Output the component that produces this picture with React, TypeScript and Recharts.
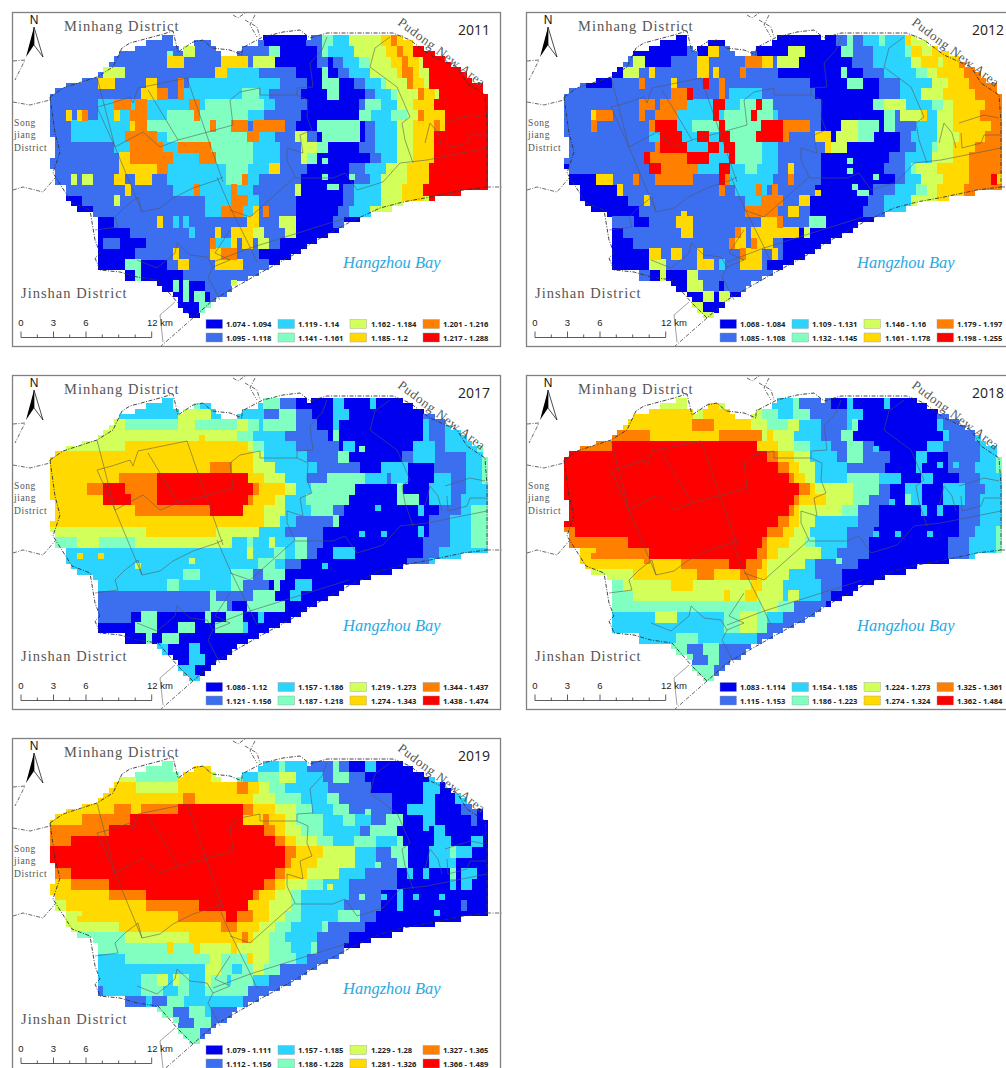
import React from 'react';
import { ScatterChart, Scatter, XAxis, YAxis } from 'recharts';

const classColors: Record<string, string> = { a: '#0000F0', b: '#3C6EF0', c: '#2AD4FF', d: '#80FFC0', e: '#D2FF5A', f: '#FFD900', g: '#FF8000', h: '#FF0000' };
const classKeys = ['a', 'b', 'c', 'd', 'e', 'f', 'g', 'h'];

const maskRows: string[] = [
  '21-23,40-48,49-66', '18-23,27-30,39-68', '16-24,25-31,36-70', '13-32,35-72', '12-74', '11-75', '10-77', '9-78', '6-79', '3-81', '1-81',
  '0-82', '0-82', '0-82', '0-82', '0-82', '0-82', '0-82', '0-82', '1-82', '1-82', '1-82', '1-82', '0-82', '0-82', '1-82', '1-82', '1-82',
  '3-82', '3-77', '3-72', '4-66', '5-64', '8-60', '9-58', '9-55', '9-54', '9-52', '9-50', '9-48', '9-47', '9-45', '9-43', '9-41',
  '14-39', '14-37', '20-35', '21-34', '23-33', '24-31', '24-30', '25-29', '26-28',
];

const rows2011: string[] = [
  'b40 a48 b51 d53 c56 e62 f64 g65 f82',
  'b25 e27 b41 d43 a50 b51 d52 c57 e63 f65 g66 f68 h82',
  'b22 f25 b32 f37 b38 e42 a50 b52 a53 b55 c58 d60 e64 f66 g67 f69 e70 h82',
  'b10 e14 b31 f33 c39 b46 a51 d52 a54 b56 c60 e65 f66 g68 f69 e71 h82',
  'b9 f12 b18 f20 b24 g25 b26 c43 b48 a51 d54 a57 b59 c62 d63 e67 g68 f70 e71 h82',
  'b17 f20 g22 b24 g25 c36 d39 c41 b47 a52 d54 a59 b61 c64 d65 e69 g70 f72 e73 h82',
  'b9 c12 g15 c16 g18 c26 g28 c29 d40 c42 b48 a58 b59 d62 c65 e68 f72 h82',
  'b3 f4 b5 f6 g7 b9 c12 f13 c15 g18 c22 d27 g28 d37 c40 b47 a58 d60 c64 d67 e69 g70 f74 h82',
  'b4 c15 f16 g18 d30 g31 d34 g37 b38 g44 b46 a50 d58 a59 b61 c65 e68 f72 g73 f74 h82',
  'b4 c14 g20 c22 d37 g39 c42 b46 e48 b50 a51 d58 a59 b61 c65 e68 f72 h82',
  'b12 c15 g21 c24 g30 d38 c43 b47 e50 d52 a58 b61 c65 e68 f72 h82',
  'b13 f15 g23 c28 g31 d38 c43 b47 e48 d50 a60 b62 c65 e68 f72 h82',
  'b13 f20 g22 c33 d37 c41 f43 b48 a56 b59 c63 e67 f71 h82',
  'b4 e5 b6 e8 b12 f14 b16 f19 b22 c33 d36 g37 c39 b47 a57 b60 c62 e67 f71 h82',
  'b14 f15 b23 c27 g28 c34 g35 c38 b46 e47 a55 b57 c62 e66 f70 h82',
  'b3 a6 b12 e13 b29 c34 g37 c39 b46 a55 b57 c62 e66 f70 e71 h82',
  'b4 a8 b29 c32 g36 c38 f39 b40 g41 b46 a54 b56 c60 e82',
  'b7 a12 b20 f21 b23 c24 b25 c26 b37 f39 b43 e46 a53 b55 a82',
  'a15 b26 c27 b31 f32 b34 f38 e40 b44 e46 a82',
  'a10 b13 a18 b30 g31 c34 f35 b36 f38 b39 e41 b43 a82',
  'a16 b23 f24 b30 f32 g35 b39 a82',
  'a14 d17 a22 b24 f26 b31 f36 b41 a82',
  'a16 d17 a25 b39 a82',
  'a23 d24 a25 d26 a29 b34 e35 b82',
  'a25 d26 a27 d29 a30 b82',
  'a28 d31 b82',
  'a82',
];

const rows2012: string[] = [
  'a24 b26 a31 b38 a51 b53 d54 b56 c59 d60 c64 f65 e82',
  'a23 b25 a27 f29 b36 a42 e45 a52 d54 b58 c64 d65 f67 e69 f72 g82',
  'b13 e15 a20 b25 f27 b34 g37 f39 b40 e44 a54 b58 c65 e67 f70 e71 f74 g82',
  'a11 e14 b16 f17 b25 f27 b28 f29 b33 g34 b40 a52 d53 a56 b60 c66 d68 e70 f75 g82',
  'b4 a9 b14 g15 b20 f21 b26 h27 b29 g30 b46 a53 d56 a59 b63 c69 e72 f76 g82',
  'b20 g23 h24 b29 g30 b31 c37 b47 a59 b63 c67 e71 f77 g82',
  'b14 g17 b18 g23 c28 h30 c33 d36 h37 d39 b48 a58 d60 e64 c69 d71 e73 f79 g82',
  'b5 f6 g9 b14 g15 b17 g21 c28 h29 c30 d35 h36 d39 c40 b48 a60 d62 b63 e67 f68 c70 e73 f78 g82',
  'b5 g6 b16 g17 h21 c24 d29 h30 d37 h41 g46 b48 a52 e55 d59 a60 d62 b66 c70 e73 f80 g82',
  'b16 c18 h22 c25 h27 c29 h31 d36 h41 g42 b47 f50 a51 e55 d58 a63 b65 c70 e74 f79 g82',
  'b17 g18 h23 c27 h29 c30 h32 d37 c40 b49 f50 e53 a63 b66 c69 d70 e73 f77 g82',
  'b15 h16 g23 h27 c31 h32 d37 c40 b48 a61 b64 c69 e73 f76 g82',
  'a1 b16 h18 g25 c29 h31 c34 d36 c40 b42 f43 b48 a60 b64 c65 d66 e70 f76 g82',
  'a6 f9 b13 g14 b17 g24 b29 h30 g31 c39 b42 g43 b48 a62 b64 c67 e71 f76 g80 h81 f82',
  'a10 f11 b29 g30 b32 c36 g37 c38 b39 g40 b47 a58 b62 c66 d68 e70 f75 g82',
  'b3 a12 b15 f16 b34 c37 g41 b44 f46 a57 b60 c65 e70 f73 e82',
  'b5 a14 b34 g40 b42 f44 b46 a56 b60 c65 e82',
  'b13 a16 b21 f24 b37 f40 g41 b46 d49 a82',
  'a11 b22 f24 b32 g33 f34 b35 f44 a45 e46 a82',
  'a13 b31 g32 f34 b35 g36 f39 b41 a82',
  'b9 a16 f18 b20 f22 b25 f26 b33 g34 f37 b39 f40 b41 a82',
  'b9 a16 e19 b25 f28 b29 c30 b33 f37 b38 a82',
  'b16 a18 e19 a23 e25 b40 a82',
  'b20 a23 e26 b29 a30 b82',
  'a26 e28 a29 e31 a82',
  'e26 a82',
  'e28 a82',
];

const rows2017: string[] = [
  'c24 e25 d28 c40 d43 b46 a53 c55 a60 c61 a82',
  'c24 e30 c40 b43 d46 b49 a53 c56 a70 b72 c82',
  'e14 d24 e27 d35 e37 d39 c40 d46 b50 a53 c54 a70 c71 b74 c82',
  'e35 d38 c44 b52 a53 d54 a70 c71 b74 c82',
  'e14 f37 e38 d40 c46 b54 a55 c57 a68 c72 b74 c80 d82',
  'f38 e40 c48 b54 d56 a66 b68 c72 b78 c81 d82',
  'f30 g34 f38 e42 c50 b58 a62 c67 a72 b78 c81 d82',
  'f13 g20 h37 f40 e44 c48 b52 d59 c63 b64 c67 a72 c75 b78 c81 d82',
  'f7 g10 h14 g20 h38 g39 f44 e46 c49 d57 a65 d66 a71 c75 b78 c82',
  'f10 h15 g20 h37 g38 f42 e44 c48 d56 a65 d69 a71 c75 b77 c82',
  'f16 g30 h36 f40 e44 c49 d53 b55 a69 c70 a73 b77 c79 d82',
  'f40 e43 c46 b53 d54 a71 b75 c79 d82',
  'e18 f31 e39 c44 b51 a69 c70 a71 b75 c79 d82',
  'd5 e9 d16 e34 c37 d38 c41 e42 c46 d48 b51 a70 b75 c79 d82',
  'c37 e38 c42 d44 c46 d48 b50 a53 c57 a70 b73 c82',
  'c39 d42 c44 b47 a67 b71 c82',
  'c25 d28 c34 d38 b40 d44 a82',
  'c22 d24 c34 d36 b41 a42 d43 a46 c49 a82',
  'b30 d31 b38 d42 a45 c47 a82',
  'b30 d33 b34 a37 d44 a82',
  'b15 a17 d20 a29 d30 a33 d36 a39 c40 a82',
  'a16 d20 a24 d27 a31 d36 c37 a82',
  'a18 d19 a21 d24 a82',
  'c22 a26 c28 a82',
  'c22 a26 c29 a82',
  'c27 a82',
  'c28 a82',
];

const rows2018: string[] = [
  'e24 f29 e34 d38 c43 d44 b50 a53 c54 a60 c61 a82',
  'f24 e26 f35 e37 d40 c43 d46 b53 c56 a70 b73 c82',
  'f24 g28 f35 e38 d42 e44 c48 b53 c54 d55 a70 c71 b75 c82',
  'g16 f29 g37 e38 f39 e43 c48 b52 d54 a71 c72 b77 c82',
  'g9 h36 f40 e43 d46 c50 b53 d56 b58 a68 c71 b78 c82',
  'h38 g40 f43 e46 c51 b53 d56 b61 a66 c68 a72 b78 c81 d82',
  'h40 g42 f44 e47 c53 b60 a66 c67 a72 b77 c81 d82',
  'h42 g43 f45 e47 c53 d59 c63 a67 c69 a74 b78 c82',
  'h44 g46 f47 e54 d59 b61 a64 c67 a71 c75 b79 c82',
  'h43 g44 f49 e54 d57 b61 a64 d65 c67 a71 c75 b78 c82',
  'h42 g43 f44 e52 d55 b59 a67 c68 a70 c71 a74 b78 c82',
  'h40 g42 f44 e47 c55 b59 a74 b78 c82',
  'g2 h38 g41 f43 e46 c53 b58 a74 b77 c81 d82',
  'g12 h37 g38 f42 e45 d47 c53 b57 a72 b76 c81 d82',
  'f6 g16 h36 g38 f40 e48 c51 b57 a72 b76 c81 d82',
  'f22 g31 h34 g37 f38 e45 c47 b55 a82',
  'e13 f25 g28 f33 g36 f38 e42 c47 b52 a82',
  'd11 e20 f24 e35 f37 e41 c48 b52 a82',
  'd13 e30 f31 e34 f36 e41 c42 e44 c48 b50 a82',
  'd37 e40 d43 b49 a82',
  'c17 e21 c30 d33 e36 d38 c41 b82',
  'c30 d33 e36 d38 b82',
  'c21 d25 c36 b82',
  'd23 b26 d29 b82',
  'd24 b27 d29 b82',
  'd28 b82',
  'd28 a29 b82',
];

const rows2019: string[] = [
  'd24 e26 f30 c43 d44 c48 b53 d54 b56 a59 c61 a82',
  'e16 d24 f30 e32 d36 c39 d43 e46 c51 b53 d56 b59 a71 c73 a82',
  'f16 e24 f35 g37 f39 e41 d44 c52 b60 a70 c73 a76 c78 a82',
  'f25 g27 f38 e42 d47 c52 d54 b64 a70 c72 a76 c78 a82',
  'f12 g15 f17 g24 h36 g38 f42 e46 d49 c53 d56 b64 a67 c72 a77 b80 a82',
  'f6 g15 h36 f40 g41 f44 e46 d51 c55 d57 c60 b63 d66 a70 c72 a79 b80 a82',
  'g11 h40 g42 f44 e47 d51 c58 b60 d65 a72 c74 a82',
  'g4 h42 g44 f46 e50 d53 c57 d61 c65 d66 a72 c75 a79 c81 a82',
  'h44 g46 f51 e57 c61 b64 d67 a71 c75 d76 c79 a82',
  'h44 g45 f50 e57 c61 b65 d67 a71 c76 a82',
  'g4 h42 g44 f48 e54 c59 b65 a67 c68 a70 c71 a75 d76 a77 c80 a82',
  'f4 g11 h40 g42 f44 e48 d51 c56 b65 a75 c76 a77 c79 a82',
  'f11 g18 h38 g39 f42 e45 d47 c56 b62 a65 c66 a82',
  'e3 f18 g28 h37 f41 e45 d47 c55 b62 a65 c66 a77 b78 a82',
  'e6 f24 g33 h35 g38 f41 e44 d47 c54 d58 b61 a82',
  'e13 f32 g35 f39 e42 d45 c51 d52 b59 a82',
  'd14 e26 f36 g37 f38 e41 d44 c50 b56 a82',
  'd22 f23 d27 f28 e34 f35 e41 d45 c49 d50 b55 a82',
  'c14 d30 e32 d37 f38 e41 d46 c48 b54 a82',
  'c29 e32 d34 c36 d38 e40 d43 b82',
  'c17 d20 e22 c23 e24 d26 c29 e30 d33 c34 d38 c41 b82',
  'b10 c17 d21 c24 d26 c29 d37 b82',
  'b12 c14 b18 c19 b22 d25 c36 b82',
  'd23 b26 d29 c30 b82',
  'd24 b27 d30 b82',
  'd28 b82',
  'd28 a29 b82',
];

type Speck = [number, number, string];
const specks2011: Speck[] = [[51, 16, 'd'], [51, 23, 'd'], [51, 26, 'd'], [52, 28, 'd'], [53, 28, 'd'], [56, 26, 'd'], [22, 3, 'd'], [13, 7, 'e']];
const specks2012: Speck[] = [[53, 23, 'd'], [53, 25, 'd'], [58, 26, 'd'], [54, 28, 'd'], [55, 29, 'd'], [56, 29, 'd'], [47, 29, 'f'], [42, 24, 'f'], [22, 33, 'f'], [23, 34, 'f']];
const specks2017: Speck[] = [[58, 9, 'd'], [61, 20, 'c'], [58, 25, 'c'], [62, 25, 'c'], [51, 31, 'c'], [5, 29, 'f'], [9, 29, 'f'], [28, 7, 'f'], [16, 31, 'e'], [26, 30, 'e']];
const specks2018: Speck[] = [[58, 9, 'c'], [61, 19, 'c'], [58, 25, 'c'], [62, 25, 'c'], [68, 25, 'c'], [51, 30, 'd'], [70, 12, 'c'], [73, 12, 'c'], [5, 29, 'g'], [9, 29, 'g'], [15, 30, 'g']];
const specks2019: Speck[] = [[59, 9, 'd'], [61, 19, 'd'], [58, 25, 'd'], [62, 25, 'c'], [68, 25, 'c'], [73, 12, 'c'], [73, 25, 'c'], [72, 28, 'c'], [70, 12, 'c'], [5, 29, 'f'], [9, 29, 'f'], [15, 30, 'f'], [52, 23, 'e']];

const legend2011 = ['1.074 - 1.094', '1.095 - 1.118', '1.119 - 1.14', '1.141 - 1.161', '1.162 - 1.184', '1.185 - 1.2', '1.201 - 1.216', '1.217 - 1.288'];
const legend2012 = ['1.068 - 1.084', '1.085 - 1.108', '1.109 - 1.131', '1.132 - 1.145', '1.146 - 1.16', '1.161 - 1.178', '1.179 - 1.197', '1.198 - 1.255'];
const legend2017 = ['1.086 - 1.12', '1.121 - 1.156', '1.157 - 1.186', '1.187 - 1.218', '1.219 - 1.273', '1.274 - 1.343', '1.344 - 1.437', '1.438 - 1.474'];
const legend2018 = ['1.083 - 1.114', '1.115 - 1.153', '1.154 - 1.185', '1.186 - 1.223', '1.224 - 1.273', '1.274 - 1.324', '1.325 - 1.361', '1.362 - 1.484'];
const legend2019 = ['1.079 - 1.111', '1.112 - 1.156', '1.157 - 1.185', '1.186 - 1.228', '1.229 - 1.28', '1.281 - 1.326', '1.327 - 1.365', '1.366 - 1.489'];

const outerBoundary: number[][] = [[50,97],[63,88],[97,77],[113,67],[122,48],[130,43],[160,35],[173,31],[178,52],[193,42],[203,40],[212,48],[230,50],[242,55],[242,48],[257,40],[263,37],[283,32],[300,30],[310,38],[327,33],[350,33],[393,33],[410,40],[430,55],[457,67],[467,83],[485,95],[487,122],[487,187],[463,190],[430,197],[403,202],[380,208],[350,222],[317,240],[293,255],[260,273],[213,300],[193,318],[177,302],[158,280],[137,277],[120,272],[100,270],[95,258],[100,253],[95,240],[90,210],[72,203],[53,173],[60,152],[55,133],[50,97]];
const outsideDashes: number[][][] = [
  [[13,61],[25,60],[15,80]], [[13,102],[30,105],[50,100]], [[13,190],[23,187],[43,192],[55,178]],
  [[233,15],[238,18],[245,13]], [[245,20],[257,27],[260,37]], [[255,15],[250,25],[257,37]], [[487,187],[502,187]], [[193,318],[160,347]],
];
const districtLines: number[][][] = [
  [[97,77],[115,147],[142,212],[160,208],[173,198],[193,188],[217,180],[223,177]],
  [[187,78],[223,182]],
  [[97,107],[112,103],[130,97],[133,103],[138,88],[187,78]],
  [[97,107],[115,147],[143,132],[160,147],[178,140],[208,132],[233,125],[230,100],[240,92],[260,88],[260,95],[297,95],[308,100],[307,117],[312,130],[300,135],[303,153],[287,148],[287,160],[295,177]],
  [[148,90],[178,140]],
  [[217,177],[230,207],[250,247],[257,262]],
  [[295,177],[250,217],[230,210]],
  [[295,178],[333,178],[345,173],[357,190],[383,182],[400,163],[427,160],[487,148]],
  [[349,217],[250,248],[213,262]],
  [[95,230],[118,227],[115,217],[125,207],[138,197],[142,212]],
  [[137,260],[157,268],[175,253],[177,243],[190,255],[207,257],[213,267],[208,277],[220,300]],
  [[213,267],[230,260],[215,253],[230,230]],
  [[390,37],[375,48],[370,67],[397,87],[410,117],[402,123],[405,140],[413,163]],
  [[425,143],[430,123],[438,133],[442,148]],
  [[445,123],[470,115],[485,118]],
  [[447,133],[448,148],[467,143],[470,135],[487,135]],
  [[327,37],[322,50],[310,63],[313,87],[297,88],[297,95]],
  [[175,302],[160,315],[163,342]],
];

const cellSize = 16 / 3;
const originX = 50;
const originY = 35;

const mask: number[][][] = maskRows.map((row) => row.split(',').map((seg) => seg.split('-').map(Number)));

function buildCells(rows: string[], specks: Speck[]) {
  const out: Record<string, { x: number; y: number }[]> = {};
  classKeys.forEach((k) => (out[k] = []));
  const put = (col: number, fine: number, cls: string) =>
    out[cls].push({ x: originX + (col + 0.5) * cellSize, y: originY + (fine + 0.5) * cellSize });
  rows.forEach((row, r) => {
    const tokens = row.split(' ').map((t) => ({ cls: t[0], end: Number(t.slice(1)) }));
    for (let fine = 2 * r; fine < Math.min(2 * r + 2, mask.length); fine++) {
      mask[fine].forEach(([s, e]) => {
        for (let col = s; col < e; col++) {
          const tok = tokens.find((t) => col < t.end);
          if (tok && !specks.some(([c, f]) => c === col && f === fine)) put(col, fine, tok.cls);
        }
      });
    }
  });
  specks.forEach(([c, f, cls]) => put(c, f, cls));
  return out;
}

const toPoints = (line: number[][]) => line.map(([x, y]) => ({ x, y }));

const CellShape = (props: any) => {
  const { cx, cy, fill } = props;
  const s = cellSize + 0.5;
  return <rect x={cx - cellSize / 2} y={cy - cellSize / 2} width={s} height={s} fill={fill} shapeRendering="crispEdges" />;
};
const NoShape = () => <g />;

const W = 514;
const H = 362;

function Panel({ year, rows, specks, legend, dx, dy }: { year: string; rows: string[]; specks: Speck[]; legend: string[]; dx: number; dy: number }) {
  const cells = buildCells(rows, specks);
  const swatchX = [206, 278, 350, 423];
  const textX = [226, 298, 371, 443];
  const ticks = [21, 37.3, 53.5, 69.7, 86, 102.3, 118.7, 135.2, 151.7];
  return (
    <div style={{ position: 'absolute', left: dx, top: dy, width: W, height: H }}>
      <ScatterChart width={W} height={H} margin={{ top: 0, right: 0, bottom: 0, left: 0 }}>
        <XAxis type="number" dataKey="x" domain={[0, W]} hide />
        <YAxis type="number" dataKey="y" domain={[0, H]} reversed hide />
        {classKeys.map((k) => (
          <Scatter key={k} data={cells[k]} fill={classColors[k]} shape={CellShape} isAnimationActive={false} />
        ))}
        {districtLines.map((l, i) => (
          <Scatter key={'d' + i} data={toPoints(l)} shape={NoShape} line={{ stroke: '#555', strokeWidth: 0.55 }} isAnimationActive={false} />
        ))}
        <Scatter data={toPoints(outerBoundary)} shape={NoShape} line={{ stroke: '#333', strokeWidth: 0.9, strokeDasharray: '4 1.5 1 1.5' }} isAnimationActive={false} />
        {outsideDashes.map((l, i) => (
          <Scatter key={'o' + i} data={toPoints(l)} shape={NoShape} line={{ stroke: '#444', strokeWidth: 0.8, strokeDasharray: '4 1.5 1 1.5' }} isAnimationActive={false} />
        ))}
      </ScatterChart>
      <svg width={W} height={H} style={{ position: 'absolute', left: 0, top: 0, pointerEvents: 'none' }}>
        <rect x={12.5} y={12.5} width={488} height={334} fill="none" stroke="#808080" strokeWidth={1.3} />
        <text x={34} y={24} textAnchor="middle" fontFamily="Liberation Sans" fontSize={12} fill="#111">N</text>
        <path d="M34 27 L26 57 L34 45 Z" fill="#000" />
        <path d="M34 27 L43 57 L34 45 Z" fill="#fff" stroke="#000" strokeWidth={0.7} />
        <g fontFamily="Liberation Serif" fill="#555" fontSize={14.5} letterSpacing={1}>
          <text x={64} y={31}>Minhang District</text>
          <text x={21} y={298}>Jinshan District</text>
          <text x={397} y={24} transform="rotate(37 397 24)" fontSize={13} letterSpacing={0.7}>Pudong New Area</text>
        </g>
        <g fontFamily="Liberation Serif" fill="#555" fontSize={9.5} letterSpacing={0.6}>
          <text x={14} y={126}>Song</text>
          <text x={14} y={138}>jiang</text>
          <text x={14} y={151}>District</text>
        </g>
        <text x={343} y={268} fontFamily="Liberation Serif" fontStyle="italic" fontSize={16.5} fill="#2AA8E0">Hangzhou Bay</text>
        <text x={490} y={35} textAnchor="end" fontFamily="Open Sans" fontSize={14} fill="#222">{year}</text>
        <g fontFamily="Liberation Sans" fontSize={9.5} fill="#222">
          <text x={21} y={326} textAnchor="middle">0</text>
          <text x={53.5} y={326} textAnchor="middle">3</text>
          <text x={86} y={326} textAnchor="middle">6</text>
          <text x={147} y={326}>12 km</text>
        </g>
        <line x1={21} x2={151.7} y1={337.5} y2={337.5} stroke="#333" strokeWidth={0.8} />
        {ticks.map((t, i) => (
          <line key={i} x1={t} x2={t} y1={337.5} y2={i % 2 === 0 && i !== 6 ? 331.5 : 334.5} stroke="#333" strokeWidth={0.8} />
        ))}
        {legend.map((label, i) => {
          const col = Math.floor(i / 2);
          const y = i % 2 === 0 ? 319.5 : 333;
          return (
            <g key={label}>
              <rect x={swatchX[col]} y={y} width={16.5} height={9} fill={classColors[classKeys[i]]} stroke="#999" strokeWidth={0.4} />
              <text x={textX[col]} y={y + 7.6} fontFamily="Open Sans" fontWeight={700} fontSize={7.6} fill="#222">{label}</text>
            </g>
          );
        })}
      </svg>
    </div>
  );
}

export default function App() {
  return (
    <div style={{ position: 'absolute', left: 0, top: 0, width: 1006, height: 1068, overflow: 'hidden', background: '#fff' }}>
      <Panel year="2011" rows={rows2011} specks={specks2011} legend={legend2011} dx={0} dy={0} />
      <Panel year="2012" rows={rows2012} specks={specks2012} legend={legend2012} dx={514} dy={0} />
      <Panel year="2017" rows={rows2017} specks={specks2017} legend={legend2017} dx={0} dy={363} />
      <Panel year="2018" rows={rows2018} specks={specks2018} legend={legend2018} dx={514} dy={363} />
      <Panel year="2019" rows={rows2019} specks={specks2019} legend={legend2019} dx={0} dy={726} />
    </div>
  );
}
